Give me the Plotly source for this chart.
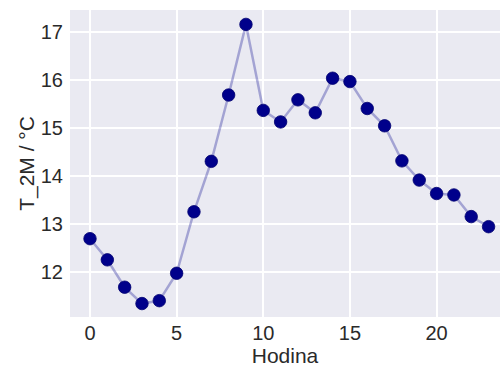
import plotly.graph_objects as go

hours = list(range(24))
temps = [12.70, 12.26, 11.69, 11.35, 11.41, 11.98, 13.26, 14.31, 15.69, 17.16,
         15.37, 15.13, 15.59, 15.32, 16.04, 15.97, 15.41, 15.05, 14.32, 13.92,
         13.64, 13.61, 13.16, 12.95]
x_ticks = [0, 5, 10, 15, 20]
y_ticks = [12, 13, 14, 15, 16, 17]

fig = go.Figure()
fig.add_trace(go.Scatter(
    x=hours, y=temps, mode="lines",
    line=dict(color="rgba(0,0,139,0.3)", width=2.5),
    hoverinfo="skip", showlegend=False))
fig.add_trace(go.Scatter(
    x=hours, y=temps, mode="markers",
    marker=dict(color="#00008B", size=12.5, line=dict(color="#000070", width=0.8)),
    showlegend=False))

font_family = "Liberation Sans, Arial, sans-serif"
fig.update_layout(
    width=500, height=367,
    margin=dict(l=70, r=0, t=10, b=50),
    paper_bgcolor="white",
    plot_bgcolor="#EAEAF2",
    font=dict(family=font_family, size=20, color="#2a2a2a"),
    xaxis=dict(range=[-1.154, 23.66], tickvals=x_ticks, showgrid=True, automargin=False,
               gridcolor="white", gridwidth=1.5, zeroline=False, showline=False,
               ticks="", tickfont=dict(size=20), ticklabelstandoff=2,
               title=dict(text="Hodina", font=dict(size=21), standoff=4)),
    yaxis=dict(range=[11.07, 17.46], tickvals=y_ticks, showgrid=True, automargin=False,
               gridcolor="white", gridwidth=1.5, zeroline=False, showline=False,
               ticks="", ticklabelstandoff=6, tickfont=dict(size=20),
               title=dict(text="T_2M / °C", font=dict(size=21), standoff=0)),
)

fig.write_html(
    "out.html",
    config={"displayModeBar": False},
    post_script="document.body.style.margin='0';document.body.style.overflow='hidden';",
)
